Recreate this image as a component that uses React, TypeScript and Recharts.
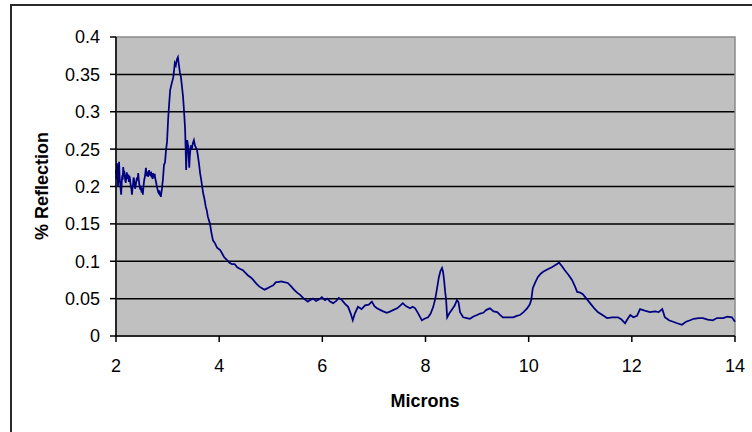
import React from 'react';
import { LineChart, Line, XAxis, YAxis, CartesianGrid, ReferenceArea, Label } from 'recharts';

const microns: number[] = [
  2.00, 2.01, 2.02, 2.03, 2.04, 2.05, 2.06, 2.07, 2.08, 2.09, 2.10, 2.11, 2.12, 2.13, 2.14, 2.15, 2.16, 2.17, 2.18, 2.19,
  2.20, 2.21, 2.22, 2.23, 2.24, 2.25, 2.26, 2.27, 2.28, 2.29, 2.30, 2.31, 2.32, 2.33, 2.34, 2.35, 2.36, 2.37, 2.38, 2.39,
  2.40, 2.41, 2.42, 2.43, 2.44, 2.45, 2.46, 2.47, 2.48, 2.49, 2.50, 2.51, 2.52, 2.53, 2.54, 2.55, 2.56, 2.57, 2.58, 2.59,
  2.60, 2.61, 2.62, 2.63, 2.64, 2.65, 2.66, 2.67, 2.68, 2.69, 2.70, 2.71, 2.72, 2.73, 2.74, 2.75, 2.76, 2.77, 2.78, 2.79,
  2.80, 2.81, 2.82, 2.83, 2.84, 2.85, 2.86, 2.87, 2.88, 2.89, 2.90, 2.91,
  2.93, 2.95, 2.97, 2.99, 3.01, 3.03, 3.05, 3.08, 3.11, 3.13, 3.14, 3.16, 3.18, 3.20, 3.22,
  3.24, 3.26, 3.28, 3.30, 3.32, 3.34, 3.35, 3.36, 3.37, 3.38, 3.40, 3.42, 3.43, 3.45, 3.47, 3.49, 3.51, 3.53, 3.55, 3.57,
  3.59, 3.61, 3.63, 3.65, 3.67, 3.69, 3.71, 3.74, 3.76, 3.78, 3.80, 3.82, 3.85, 3.88, 3.92, 3.96, 4.00, 4.02, 4.06, 4.10,
  4.15, 4.20, 4.25, 4.30, 4.35, 4.40, 4.46, 4.50, 4.56, 4.62, 4.66, 4.72, 4.78, 4.83, 4.88, 4.94, 4.99, 5.05, 5.10, 5.14,
  5.20, 5.26, 5.33, 5.40, 5.45, 5.51, 5.57, 5.64, 5.72, 5.76, 5.82, 5.88, 5.94, 5.99, 6.05, 6.10, 6.15, 6.21, 6.27, 6.32,
  6.38, 6.44, 6.50, 6.55, 6.59, 6.63, 6.69, 6.76, 6.83, 6.90, 6.96, 7.01, 7.06, 7.12, 7.18, 7.25, 7.32, 7.38, 7.45, 7.50,
  7.56, 7.62, 7.70, 7.75, 7.80, 7.86, 7.93, 7.98, 8.05, 8.10, 8.15, 8.19, 8.22, 8.26, 8.29, 8.32, 8.34, 8.36, 8.38, 8.40,
  8.42, 8.46, 8.51, 8.56, 8.61, 8.64, 8.67, 8.73, 8.80, 8.86, 8.93, 9.00, 9.06, 9.12, 9.18, 9.25, 9.32, 9.39, 9.45, 9.50,
  9.60, 9.70, 9.77, 9.83, 9.90, 9.97, 10.02, 10.05, 10.08, 10.13, 10.18, 10.23, 10.28, 10.36, 10.45, 10.52, 10.59, 10.65, 10.70, 10.77,
  10.84, 10.90, 10.94, 11.00, 11.05, 11.12, 11.19, 11.26, 11.34, 11.43, 11.52, 11.62, 11.73, 11.80, 11.87, 11.92, 11.97, 12.03, 12.10, 12.16,
  12.25, 12.35, 12.45, 12.52, 12.59, 12.64, 12.72, 12.80, 12.88, 12.97, 13.05, 13.13, 13.20, 13.30, 13.38, 13.47, 13.57, 13.65, 13.77, 13.85,
  13.94, 14.00,
];

const reflection: number[] = [
  0.222, 0.210, 0.231, 0.215, 0.200, 0.218, 0.233, 0.212, 0.205, 0.196, 0.189, 0.204, 0.215, 0.209, 0.226, 0.218, 0.221, 0.213, 0.208, 0.205,
  0.214, 0.219, 0.212, 0.210, 0.216, 0.206, 0.214, 0.211, 0.204, 0.200, 0.196, 0.189, 0.198, 0.203, 0.212, 0.209, 0.203, 0.197, 0.201, 0.205,
  0.210, 0.212, 0.208, 0.218, 0.210, 0.204, 0.200, 0.196, 0.201, 0.195, 0.192, 0.198, 0.189, 0.197, 0.205, 0.210, 0.213, 0.219, 0.225, 0.216,
  0.214, 0.220, 0.213, 0.217, 0.222, 0.215, 0.219, 0.214, 0.220, 0.212, 0.216, 0.210, 0.218, 0.214, 0.213, 0.217, 0.211, 0.208, 0.205, 0.200,
  0.198, 0.195, 0.192, 0.191, 0.195, 0.188, 0.190, 0.186, 0.192, 0.196, 0.204, 0.209,
  0.229, 0.232, 0.249, 0.260, 0.289, 0.310, 0.329, 0.338, 0.346, 0.358, 0.365, 0.362, 0.370, 0.373, 0.362,
  0.352, 0.346, 0.333, 0.320, 0.300, 0.276, 0.250, 0.222, 0.245, 0.262, 0.253, 0.225, 0.240, 0.255, 0.250, 0.258, 0.262, 0.255, 0.252, 0.249,
  0.240, 0.230, 0.218, 0.210, 0.200, 0.191, 0.185, 0.173, 0.168, 0.160, 0.155, 0.151, 0.138, 0.128, 0.124, 0.118, 0.116, 0.115, 0.110, 0.105,
  0.102, 0.098, 0.096, 0.096, 0.092, 0.090, 0.088, 0.085, 0.081, 0.078, 0.075, 0.070, 0.066, 0.064, 0.062, 0.064, 0.066, 0.068, 0.072, 0.072,
  0.073, 0.072, 0.071, 0.066, 0.062, 0.058, 0.055, 0.050, 0.046, 0.048, 0.050, 0.047, 0.049, 0.052, 0.048, 0.050, 0.046, 0.044, 0.047, 0.051,
  0.048, 0.043, 0.039, 0.030, 0.021, 0.030, 0.039, 0.036, 0.041, 0.042, 0.046, 0.040, 0.037, 0.035, 0.033, 0.031, 0.033, 0.035, 0.037, 0.040,
  0.044, 0.040, 0.037, 0.039, 0.037, 0.030, 0.021, 0.023, 0.025, 0.030, 0.039, 0.050, 0.062, 0.079, 0.087, 0.091, 0.086, 0.075, 0.060, 0.048,
  0.025, 0.030, 0.035, 0.040, 0.048, 0.045, 0.032, 0.025, 0.024, 0.023, 0.026, 0.028, 0.030, 0.031, 0.035, 0.037, 0.033, 0.032, 0.028, 0.025,
  0.025, 0.025, 0.027, 0.028, 0.032, 0.037, 0.042, 0.048, 0.064, 0.072, 0.079, 0.083, 0.086, 0.089, 0.092, 0.095, 0.098, 0.093, 0.088, 0.082,
  0.075, 0.066, 0.059, 0.058, 0.056, 0.050, 0.044, 0.038, 0.032, 0.028, 0.024, 0.025, 0.025, 0.022, 0.017, 0.023, 0.028, 0.025, 0.027, 0.036,
  0.034, 0.032, 0.033, 0.032, 0.036, 0.025, 0.021, 0.019, 0.017, 0.015, 0.019, 0.021, 0.023, 0.024, 0.024, 0.022, 0.021, 0.024, 0.024, 0.026,
  0.025, 0.019,
];

const xTicks: number[] = [2, 4, 6, 8, 10, 12, 14];
const yTicks: number[] = [0, 0.05, 0.1, 0.15, 0.2, 0.25, 0.3, 0.35, 0.4];
const gridValues: number[] = [0.05, 0.1, 0.15, 0.2, 0.25, 0.3, 0.35];

const data = microns.map((m, i) => ({ m, r: reflection[i] }));

const FONT = '"Liberation Sans", Arial, sans-serif';

export default function App() {
  return (
    <div style={{ position: 'absolute', left: 0, top: 0, width: 752, height: 432, background: '#fff', overflow: 'hidden' }}>
      <div
        style={{
          position: 'absolute',
          left: 10,
          top: 4,
          width: 900,
          height: 600,
          border: '2px solid #2a2a2a',
          boxSizing: 'border-box',
        }}
      />
      <div style={{ position: 'absolute', left: 0, top: 0 }}>
        <LineChart
          width={752}
          height={432}
          data={data}
          margin={{ top: 37, right: 17, left: 0, bottom: 46 }}
        >
          <CartesianGrid
            fill="#C0C0C0"
            vertical={false}
            horizontalValues={gridValues}
            stroke="#000"
            strokeWidth={1.5}
          />
          <ReferenceArea x1={2} x2={14} y1={0} y2={0.4} fill="none" stroke="#8a8a8a" strokeWidth={1.5} ifOverflow="visible" />
          <XAxis
            dataKey="m"
            type="number"
            domain={[2, 14]}
            ticks={xTicks}
            height={50}
            axisLine={{ stroke: '#000', strokeWidth: 1.5 }}
            tickLine={{ stroke: '#000', strokeWidth: 1.5 }}
            tickSize={6}
            tickMargin={17}
            tick={{ fill: '#000', fontSize: 18, fontFamily: FONT }}
            interval={0}
          >
            <Label
              content={() => (
                <text x={425} y={407} textAnchor="middle" fontFamily={FONT} fontWeight="bold" fontSize={18} fill="#000">
                  Microns
                </text>
              )}
            />
          </XAxis>
          <YAxis
            type="number"
            domain={[0, 0.4]}
            ticks={yTicks}
            width={116}
            axisLine={{ stroke: '#000', strokeWidth: 1.5 }}
            tickLine={{ stroke: '#000', strokeWidth: 1.5 }}
            tickSize={6}
            tickMargin={10}
            tick={{ fill: '#000', fontSize: 18, fontFamily: FONT }}
            interval={0}
          >
            <Label
              content={() => (
                <text
                  x={48}
                  y={186}
                  transform="rotate(-90, 48, 186)"
                  textAnchor="middle"
                  fontFamily={FONT}
                  fontWeight="bold"
                  fontSize={18}
                  fill="#000"
                >
                  % Reflection
                </text>
              )}
            />
          </YAxis>
          <Line
            type="linear"
            dataKey="r"
            stroke="#000080"
            strokeWidth={1.75}
            dot={false}
            isAnimationActive={false}
          />
        </LineChart>
      </div>
    </div>
  );
}
